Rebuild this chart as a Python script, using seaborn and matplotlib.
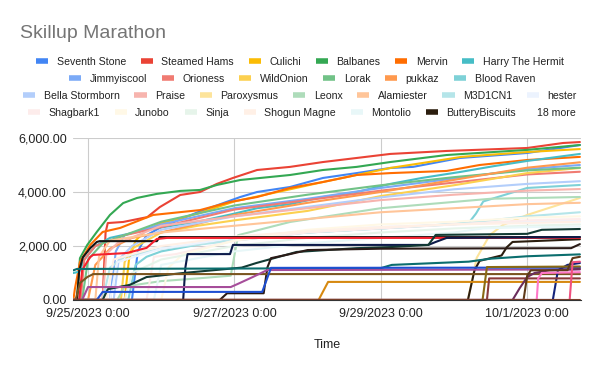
import numpy as np
import pandas as pd
import matplotlib
matplotlib.use('Agg')
import matplotlib.pyplot as plt
from matplotlib.lines import Line2D
from matplotlib.ticker import FuncFormatter
import seaborn as sns

# points are (days since 9/25/2023 0:00, cumulative value)
seventh_stone = [(-0.2, 0), (0.6, 0), (0.68, 1800), (0.8, 2400), (1.0, 2700), (1.5, 3250), (2.08, 3815), (2.31, 4000),
                 (2.76, 4185), (3.21, 4520), (3.67, 4700), (4.13, 4890), (4.44, 4930), (5.08, 5260), (6.0, 5445),
                 (6.5, 5650), (6.72, 5740)]
steamed_hams = [(-0.2, 0), (0.2, 0), (0.24, 2500), (0.27, 2850), (0.48, 2890), (0.81, 3070), (0.98, 3440), (1.26, 3890),
                (1.53, 4000), (1.76, 4300), (1.98, 4520), (2.31, 4815), (2.76, 4930), (3.21, 5110), (3.67, 5260),
                (4.13, 5410), (4.9, 5520), (6.0, 5630), (6.49, 5815), (6.72, 5850)]
culichi = [(-0.2, 0), (0.5, 0), (0.56, 1500), (0.65, 2200), (0.8, 2600), (1.0, 2850), (1.5, 3200), (2.0, 3650),
           (2.76, 4100), (3.21, 4370), (3.67, 4630), (4.13, 4890), (4.56, 5070), (5.1, 5300), (6.0, 5480), (6.72, 5590)]
balbanes = [(-0.2, 0), (-0.15, 70), (-0.11, 1550), (-0.01, 2040), (0.12, 2520), (0.3, 3150), (0.48, 3590), (0.67, 3780),
            (0.94, 3930), (1.26, 4040), (1.53, 4075), (1.76, 4260), (2.08, 4445), (2.76, 4630), (3.21, 4815),
            (3.67, 4930), (4.13, 5110), (4.9, 5370), (6.0, 5560), (6.72, 5740)]
mervin = [(-0.2, 0), (-0.18, 400), (-0.11, 1410), (0.03, 2040), (0.2, 2520), (0.44, 2670), (0.89, 3150), (1.53, 3330),
          (1.94, 3630), (2.31, 3815), (2.76, 4150), (3.21, 4370), (3.67, 4630), (4.13, 4700), (4.9, 4780),
          (5.35, 5000), (6.0, 5185), (6.72, 5300)]
harry = [(-0.2, 1000), (-0.12, 1050), (-0.05, 1500), (0.1, 2000), (0.3, 2300), (0.8, 2600), (1.5, 2900), (2.0, 3200),
         (2.31, 3400), (2.76, 3550), (3.21, 3815), (3.67, 4000), (4.13, 4300), (4.56, 4520), (5.08, 4740),
         (5.55, 4960), (6.0, 5150), (6.72, 5410)]
jimmyiscool = [(-0.2, 0), (0.3, 0), (0.38, 1800), (0.5, 2400), (1.0, 2800), (1.5, 3100), (2.0, 3400), (3.0, 3750),
               (4.0, 4150), (5.0, 4500), (6.0, 4850), (6.72, 5000)]
orioness = [(-0.2, 0), (-0.1, 0), (-0.05, 1500), (0.1, 2000), (0.5, 2400), (1.0, 2700), (2.0, 3350), (3.0, 3700),
            (4.0, 4050), (5.0, 4350), (6.0, 4650), (6.72, 4750)]
wildonion = [(-0.2, 0), (0.45, 0), (0.5, 1400), (0.6, 1900), (1.0, 2500), (1.5, 2750), (2.0, 2950), (3.0, 3300),
             (4.0, 3850), (5.0, 4250), (6.0, 4700), (6.72, 4890)]
lorak = [(-0.2, 0), (-0.08, 0), (0.0, 1500), (0.2, 2100), (0.6, 2500), (1.0, 2900), (2.0, 3500), (3.0, 3900),
         (4.0, 4250), (5.0, 4550), (6.0, 4800), (6.72, 4900)]
pukkaz = [(-0.2, 0), (0.0, 0), (0.1, 1300), (0.3, 1900), (0.6, 2300), (1.0, 2500), (2.0, 3150), (3.0, 3600),
          (4.0, 4000), (5.0, 4450), (6.0, 4900), (6.72, 5100)]
blood_raven = [(-0.2, 0), (0.55, 0), (0.65, 1300), (0.8, 1600), (1.0, 1800), (2.0, 2300), (3.0, 2500), (4.0, 2650),
               (5.2, 2850), (5.3, 3200), (5.4, 3650), (6.0, 4150), (6.72, 4260)]
bella = [(-0.2, 0), (0.35, 0), (0.42, 1500), (0.6, 2000), (1.0, 2600), (2.0, 3100), (3.0, 3450), (4.0, 3800),
         (5.0, 4100), (6.0, 4300), (6.72, 4400)]
praise = [(-0.2, 0), (0.2, 0), (0.25, 1700), (0.4, 2100), (1.0, 2750), (2.0, 3100), (3.0, 3400), (4.0, 3700),
          (5.0, 3900), (6.0, 4050), (6.72, 4110)]
paroxysmus = [(-0.2, 0), (5.19, 0), (5.31, 1560), (5.49, 2410), (5.67, 2780), (6.0, 3150), (6.72, 3780)]
leonx = [(-0.2, 0), (0.4, 0), (0.5, 500), (1.0, 700), (1.5, 800), (1.95, 900), (2.05, 2400), (2.76, 2890), (4.0, 3400),
         (5.5, 3750), (6.72, 3815)]
alamiester = [(-0.2, 0), (0.1, 0), (0.15, 1600), (0.3, 2200), (1.0, 2500), (2.0, 2750), (3.0, 3000), (4.0, 3250),
              (5.0, 3400), (6.0, 3550), (6.72, 3600)]
m3d1cn1 = [(-0.2, 0), (0.2, 0), (0.3, 1200), (0.5, 1600), (1.0, 1900), (2.0, 2200), (3.0, 2500), (4.0, 2650),
           (5.0, 2800), (6.0, 3100), (6.72, 3250)]
hester = [(-0.2, 0), (0.3, 0), (0.4, 1400), (1.0, 1900), (2.0, 2300), (3.0, 2550), (4.0, 2700), (5.0, 2800),
          (6.0, 2900), (6.72, 2950)]
shagbark1 = [(-0.2, 0), (0.8, 0), (0.9, 1600), (1.2, 1700), (2.0, 2200), (3.0, 2500), (4.0, 2650), (5.0, 2800),
             (6.0, 2950), (6.72, 3000)]
junobo = [(-0.2, 0), (1.0, 0), (1.1, 1200), (1.3, 1700), (2.0, 2200), (3.0, 2600), (4.0, 2800), (5.0, 2900),
          (6.0, 3050), (6.72, 3100)]
sinja = [(-0.2, 0), (0.5, 0), (0.6, 1000), (1.0, 1500), (2.0, 2000), (3.0, 2300), (4.0, 2500), (5.0, 2650),
         (6.0, 2750), (6.72, 2800)]
shogun_magne = [(-0.2, 0), (0.25, 0), (0.35, 1500), (1.0, 2000), (2.0, 2350), (3.0, 2550), (4.0, 2700), (5.0, 2800),
                (6.0, 2850), (6.72, 2900)]
montolio = [(-0.2, 0), (0.9, 0), (1.0, 1300), (2.0, 1800), (3.0, 2100), (4.0, 2300), (5.0, 2500), (5.4, 2650),
            (6.0, 2700), (6.72, 2720)]
buttery_biscuits = [(-0.2, 0), (5.19, 0), (5.28, 1100), (5.35, 1450), (5.5, 1550), (5.65, 1650), (5.72, 1950),
                    (5.8, 2150), (6.72, 2250)]

# the "18 more" runners (not named in the legend)
more_01 = [(-0.2, 0), (-0.15, 0), (-0.12, 1100), (-0.07, 1580), (0.03, 1920), (0.12, 2150), (0.16, 2180),
           (0.94, 2180), (0.98, 2330), (6.72, 2330)]
more_02 = [(-0.2, 0), (-0.12, 0), (-0.08, 1110), (0.03, 1590), (0.07, 1670), (0.53, 1740), (0.8, 1930), (0.94, 2260),
           (1.08, 2300), (6.72, 2300)]
more_03 = [(-0.2, 0), (1.3, 0), (1.33, 1200), (1.36, 1700), (1.94, 1700), (1.98, 2040), (4.65, 2040), (4.75, 2150),
           (4.9, 2300), (6.72, 2330)]
more_04 = [(-0.2, 0), (0.2, 0), (0.27, 400), (0.57, 560), (0.8, 850), (1.3, 1000), (1.7, 1100), (2.1, 1200),
           (2.3, 1370), (2.85, 1780), (3.67, 1920), (4.13, 1960), (4.65, 2040), (4.75, 2410), (6.0, 2450), (6.2, 2600),
           (6.72, 2630)]
more_05 = [(-0.2, 0), (1.8, 0), (1.9, 250), (2.4, 250), (2.45, 1200), (2.5, 1550), (2.76, 1700), (3.0, 1850),
           (4.0, 1900), (6.6, 1920), (6.72, 2070)]
more_06 = [(-0.2, 1100), (-0.15, 1150), (4.0, 1180), (4.15, 1300), (5.2, 1420), (5.5, 1530), (6.0, 1620), (6.72, 1690)]
more_07 = [(-0.2, 0), (-0.17, 0), (-0.11, 630), (-0.01, 850), (0.07, 960), (6.72, 960)]
more_08 = [(-0.2, 0), (-0.08, 0), (0.0, 480), (1.95, 480), (2.05, 600), (2.25, 850), (2.45, 1110), (6.72, 1130)]
more_09 = [(-0.2, 0), (0.12, 0), (0.2, 300), (2.38, 300), (2.5, 1190), (6.72, 1200)]
more_10 = [(-0.2, 0), (6.35, 0), (6.42, 1100), (6.55, 1300), (6.72, 1370)]
more_11 = [(-0.2, 0), (3.15, 0), (3.28, 670), (6.72, 670)]
more_12 = [(-0.2, 0), (5.39, 0), (5.45, 1220), (6.72, 1240)]
more_13 = [(-0.2, 0), (5.45, 0), (5.48, 800), (6.72, 800)]
more_14 = [(-0.2, 0), (5.8, 0), (5.9, 450), (6.0, 850), (6.1, 1000), (6.3, 1100), (6.72, 1150)]
more_15 = [(-0.2, 0), (5.95, 0), (6.0, 900), (6.05, 1100), (6.55, 1100), (6.62, 1550), (6.72, 1600)]
more_16 = [(-0.2, 0), (6.13, 0), (6.15, 800), (6.2, 1000), (6.72, 1030)]
more_17 = [(-0.2, 0), (6.58, 0), (6.62, 1400), (6.72, 1420)]
more_18 = [(-0.2, 0), (6.72, 0)]

names = ['Seventh Stone', 'Steamed Hams', 'Culichi', 'Balbanes', 'Mervin', 'Harry The Hermit',
         'Jimmyiscool', 'Orioness', 'WildOnion', 'Lorak', 'pukkaz', 'Blood Raven',
         'Bella Stormborn', 'Praise', 'Paroxysmus', 'Leonx', 'Alamiester', 'M3D1CN1', 'hester',
         'Shagbark1', 'Junobo', 'Sinja', 'Shogun Magne', 'Montolio', 'ButteryBiscuits']
named_series = [seventh_stone, steamed_hams, culichi, balbanes, mervin, harry,
                jimmyiscool, orioness, wildonion, lorak, pukkaz, blood_raven,
                bella, praise, paroxysmus, leonx, alamiester, m3d1cn1, hester,
                shagbark1, junobo, sinja, shogun_magne, montolio, buttery_biscuits]
named_colors = ['#4285f4', '#ea4335', '#fbbc04', '#34a853', '#ff6d01', '#46bdc6',
                '#7baaf7', '#f07b72', '#fcd04f', '#71c287', '#ff994d', '#7ed1d7',
                '#b3cefb', '#f7b4ae', '#fde49b', '#aedcba', '#ffc599', '#b5e5e9', '#ecf3fe',
                '#fdeceb', '#fff8e6', '#e6f4ea', '#fff0e6', '#e8f7f8', '#2b1d0e']
more_series = [more_01, more_02, more_03, more_04, more_05, more_06, more_07, more_08, more_09,
               more_10, more_11, more_12, more_13, more_14, more_15, more_16, more_17, more_18]
more_colors = ['#141414', '#f4212e', '#0d1b4a', '#123a33', '#2b1b17', '#0b6e6e', '#7a5520', '#a64d9a', '#1f4fd1',
               '#14237a', '#d68910', '#8a6a14', '#8b3a3a', '#6b2d5c', '#5e3a1a', '#ff77c8', '#f0507e', '#7b3f2a']
legend_rows = [names[0:6], names[6:12], names[12:19], names[19:25]]
xtick_days = [0, 2, 4, 6]
xtick_labels = ['9/25/2023 0:00', '9/27/2023 0:00', '9/29/2023 0:00', '10/1/2023 0:00']

base = pd.Timestamp('2023-09-25')
all_names = names + [f'more {i + 1}' for i in range(len(more_series))]
all_series = named_series + more_series
palette = dict(zip(all_names, named_colors + more_colors))

rows = []
for name, pts in zip(all_names, all_series):
    for d, v in pts:
        rows.append({'runner': name, 'time': base + pd.Timedelta(days=d), 'value': v})
df = pd.DataFrame(rows)

sns.set_style('white')
plt.rcParams['font.family'] = ['Liberation Sans', 'DejaVu Sans']

fig = plt.figure(figsize=(6, 3.71), dpi=100)
ax = fig.add_axes([73 / 600, 71 / 371, 508 / 600, 162 / 371])

sns.lineplot(data=df, x='time', y='value', hue='runner', hue_order=all_names, palette=palette,
             estimator=None, sort=False, lw=1.5, legend=False, ax=ax)

ax.set_xlim(base + pd.Timedelta(days=-0.205), base + pd.Timedelta(days=6.735))
ax.set_ylim(0, 6000)
ax.set_xticks([base + pd.Timedelta(days=d) for d in xtick_days])
ax.set_xticklabels(xtick_labels)
ax.set_yticks([0, 2000, 4000, 6000])
ax.yaxis.set_major_formatter(FuncFormatter(lambda v, p: f'{v:,.2f}'))
ax.grid(True, color='#cccccc', lw=0.8)
ax.set_axisbelow(True)
for s in ['top', 'right', 'left']:
    ax.spines[s].set_visible(False)
ax.spines['bottom'].set_color('#333333')
ax.tick_params(length=0, labelsize=9, colors='#222222')
ax.tick_params(axis='y', pad=4.5)
ax.tick_params(axis='x', pad=6)
ax.set_xlabel('')
ax.set_ylabel('')

fig.text(20 / 600, 1 - 38 / 371, 'Skillup Marathon', fontsize=14, color='#757575', va='baseline')
fig.text(327 / 600, 1 - 345 / 371, 'Time', ha='center', va='center', fontsize=9, color='#222222')

row_y = [62, 79, 96, 113]
row_x = [300, 302, 300, 272]
for labels, y, x in zip(legend_rows, row_y, row_x):
    handles = [Line2D([], [], color=palette[n], lw=4, solid_capstyle='butt') for n in labels]
    leg = fig.legend(handles, labels, loc='center', bbox_to_anchor=(x / 600, 1 - y / 371), ncol=len(labels),
                     frameon=False, fontsize=7.6, handlelength=1.15, handletextpad=0.8, columnspacing=1.4,
                     borderpad=0, borderaxespad=0)
    for t in leg.get_texts():
        t.set_color('#222222')
fig.text(537 / 600, 1 - 113 / 371, '18 more', fontsize=7.6, color='#222222', va='center')

fig.savefig('out.png', dpi=100)
